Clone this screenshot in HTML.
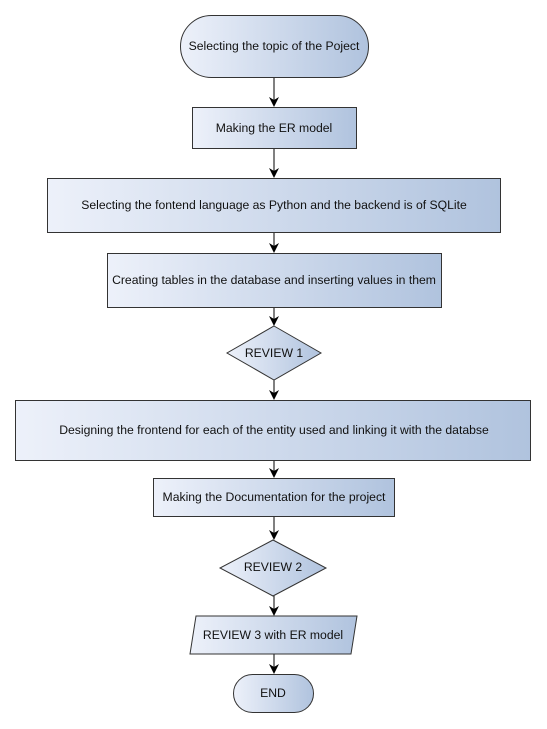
<!DOCTYPE html>
<html><head><style>body{margin:0;background:#fff}svg{display:block}text{font-family:"Liberation Sans",sans-serif;font-size:12.2px;fill:#111;text-anchor:middle;dominant-baseline:central}</style></head><body>
<svg width="547" height="729" viewBox="0 0 547 729">
<defs>
<linearGradient id="g" x1="0" x2="1" y1="0" y2="0"><stop offset="0" stop-color="#edf1fa"/><stop offset="1" stop-color="#b0c3de"/></linearGradient>
<marker id="a" markerWidth="10" markerHeight="10" refX="9" refY="5" orient="auto" markerUnits="userSpaceOnUse"><path d="M0,0 L10,5 L0,10 L3,5z" fill="#000"/></marker>
</defs>
<g stroke="#000" stroke-width="1" fill="none" marker-end="url(#a)">
<line x1="274" y1="77" x2="274" y2="106"/>
<line x1="274" y1="148" x2="274" y2="177"/>
<line x1="274" y1="232" x2="274" y2="252"/>
<line x1="274" y1="307" x2="274" y2="325"/>
<line x1="274" y1="380" x2="274" y2="399"/>
<line x1="274" y1="460" x2="274" y2="477"/>
<line x1="274" y1="516" x2="274" y2="539"/>
<line x1="274" y1="596" x2="274" y2="615"/>
<line x1="274" y1="654" x2="274" y2="673"/>
</g>
<g stroke="#333" stroke-width="1" fill="url(#g)">
<rect x="180.5" y="15.5" width="188" height="62" rx="31"/>
<rect x="192.5" y="107.5" width="164" height="41"/>
<rect x="47.5" y="178.5" width="453" height="54"/>
<rect x="107.5" y="253.5" width="334" height="54"/>
<polygon points="274,326 321,353 274,380 227,353"/>
<rect x="15.5" y="400.5" width="515" height="60"/>
<rect x="153.5" y="478.5" width="241" height="38"/>
<polygon points="273,540 326,568 273,596 220,568"/>
<polygon points="196,616 357,616 351,654 190,654"/>
<rect x="233.5" y="674.5" width="80" height="38" rx="19"/>
</g>
<text x="274" y="46">Selecting the topic of the Poject</text>
<text x="274" y="128">Making the ER model</text>
<text x="274" y="205">Selecting the fontend language as Python and the backend is of SQLite</text>
<text x="274" y="280">Creating tables in the database and inserting values in them</text>
<text x="274" y="353">REVIEW 1</text>
<text x="274" y="430">Designing the frontend for each of the entity used and linking it with the databse</text>
<text x="274" y="497">Making the Documentation for the project</text>
<text x="273" y="567">REVIEW 2</text>
<text x="273" y="635">REVIEW 3 with ER model</text>
<text x="273" y="693">END</text>
</svg>
</body></html>
